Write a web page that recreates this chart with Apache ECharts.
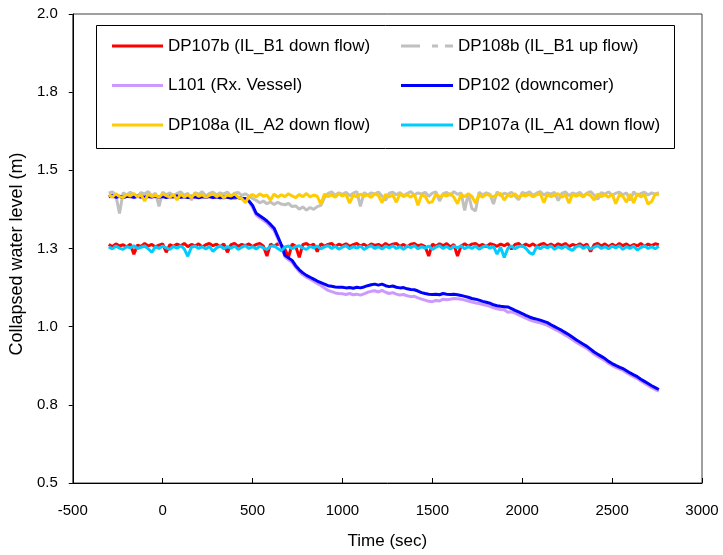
<!DOCTYPE html>
<html>
<head>
<meta charset="utf-8">
<title>Collapsed water level</title>
<script src="https://cdn.jsdelivr.net/npm/echarts@6/dist/echarts.min.js"></script>
<style>
  html, body { margin: 0; padding: 0; background: #ffffff; }
  #chart { width: 723px; height: 555px; }
</style>
</head>
<body>
<div id="chart"></div>
<script>
// Sample times (s)
const timeSec = [
  -300,-280,-260,-240,-220,-200,-180,-160,-140,-120,
  -100,-80,-60,-40,-20,0,20,40,60,80,
  100,120,140,160,180,200,220,240,260,280,
  300,320,340,360,380,400,420,440,460,480,
  500,520,540,560,580,600,620,640,660,680,
  700,720,740,760,780,800,820,840,860,880,
  900,920,940,960,980,1000,1020,1040,1060,1080,
  1100,1120,1140,1160,1180,1200,1220,1240,1260,1280,
  1300,1320,1340,1360,1380,1400,1420,1440,1460,1480,
  1500,1520,1540,1560,1580,1600,1620,1640,1660,1680,
  1700,1720,1740,1760,1780,1800,1820,1840,1860,1880,
  1900,1920,1940,1960,1980,2000,2020,2040,2060,2080,
  2100,2120,2140,2160,2180,2200,2220,2240,2260,2280,
  2300,2320,2340,2360,2380,2400,2420,2440,2460,2480,
  2500,2520,2540,2560,2580,2600,2620,2640,2660,2680,
  2700,2720,2740,2760
];

// DP107b (IL_B1 down flow), m
const dp107b = [
  1.263,1.256,1.265,1.258,1.262,1.255,1.264,1.232,1.261,1.257,
  1.266,1.258,1.263,1.255,1.261,1.265,1.238,1.262,1.257,1.264,
  1.259,1.266,1.256,1.263,1.258,1.265,1.255,1.262,1.266,1.259,
  1.264,1.256,1.265,1.238,1.262,1.266,1.257,1.263,1.259,1.265,
  1.256,1.263,1.266,1.258,1.226,1.264,1.257,1.265,1.260,1.248,
  1.222,1.264,1.257,1.222,1.263,1.266,1.258,1.264,1.240,1.265,
  1.257,1.263,1.266,1.256,1.264,1.259,1.265,1.257,1.262,1.266,
  1.258,1.264,1.256,1.265,1.260,1.263,1.257,1.266,1.259,1.264,
  1.266,1.257,1.263,1.255,1.264,1.266,1.258,1.262,1.256,1.226,
  1.264,1.257,1.265,1.259,1.266,1.255,1.263,1.226,1.258,1.265,
  1.257,1.264,1.266,1.258,1.263,1.256,1.265,1.262,1.257,1.264,
  1.259,1.266,1.248,1.263,1.266,1.257,1.264,1.258,1.265,1.256,
  1.263,1.266,1.258,1.264,1.257,1.265,1.260,1.266,1.256,1.263,
  1.258,1.265,1.257,1.264,1.240,1.262,1.266,1.258,1.265,1.256,
  1.264,1.257,1.266,1.259,1.265,1.256,1.263,1.258,1.266,1.257,
  1.264,1.259,1.265,1.262
];

// DP108b (IL_B1 up flow), m
const dp108b = [
  1.427,1.431,1.419,1.362,1.428,1.421,1.430,1.423,1.417,1.429,
  1.424,1.432,1.418,1.427,1.385,1.430,1.422,1.428,1.419,1.426,
  1.431,1.420,1.427,1.405,1.429,1.423,1.432,1.418,1.426,1.430,
  1.421,1.428,1.424,1.431,1.417,1.427,1.429,1.420,1.425,1.418,
  1.410,1.404,1.396,1.402,1.393,1.399,1.391,1.398,1.392,1.390,
  1.394,1.384,1.386,1.376,1.383,1.373,1.381,1.375,1.384,1.388,
  1.412,1.426,1.431,1.420,1.428,1.423,1.430,1.419,1.427,1.432,
  1.385,1.429,1.421,1.428,1.424,1.431,1.418,1.404,1.427,1.430,
  1.422,1.429,1.419,1.426,1.432,1.421,1.428,1.424,1.430,1.417,
  1.427,1.431,1.402,1.425,1.429,1.420,1.432,1.423,1.428,1.372,
  1.426,1.378,1.370,1.430,1.421,1.428,1.424,1.392,1.431,1.419,
  1.427,1.423,1.430,1.418,1.406,1.429,1.425,1.431,1.420,1.427,
  1.432,1.421,1.428,1.424,1.430,1.403,1.426,1.431,1.419,1.428,
  1.423,1.430,1.418,1.427,1.432,1.421,1.407,1.429,1.424,1.431,
  1.420,1.427,1.430,1.422,1.428,1.404,1.431,1.419,1.426,1.430,
  1.421,1.428,1.424,1.429
];

// L101 (Rx. Vessel), m
const l101 = [
  1.415,1.417,1.413,1.416,1.414,1.417,1.415,1.413,1.416,1.414,
  1.417,1.415,1.413,1.416,1.414,1.417,1.415,1.412,1.416,1.414,
  1.415,1.413,1.416,1.414,1.412,1.415,1.413,1.416,1.414,1.412,
  1.415,1.413,1.411,1.414,1.412,1.410,1.413,1.411,1.408,1.400,
  1.382,1.357,1.348,1.340,1.332,1.320,1.308,1.282,1.256,1.224,
  1.214,1.206,1.190,1.176,1.166,1.158,1.152,1.145,1.138,1.132,
  1.124,1.116,1.112,1.108,1.106,1.105,1.103,1.106,1.102,1.104,
  1.101,1.105,1.110,1.113,1.115,1.111,1.116,1.110,1.106,1.109,
  1.104,1.101,1.103,1.099,1.096,1.097,1.092,1.088,1.085,1.081,
  1.080,1.084,1.082,1.088,1.086,1.088,1.090,1.089,1.088,1.085,
  1.082,1.079,1.076,1.074,1.071,1.068,1.065,1.060,1.057,1.055,
  1.054,1.046,1.048,1.043,1.038,1.033,1.027,1.022,1.018,1.015,
  1.012,1.008,1.004,0.998,0.992,0.986,0.980,0.973,0.966,0.958,
  0.950,0.943,0.937,0.930,0.921,0.912,0.905,0.898,0.891,0.883,
  0.876,0.870,0.865,0.860,0.853,0.846,0.840,0.834,0.826,0.819,
  0.812,0.805,0.799,0.794
];

// DP102 (downcomer), m
const dp102 = [
  1.416,1.419,1.414,1.417,1.413,1.416,1.418,1.414,1.417,1.415,
  1.413,1.417,1.415,1.418,1.414,1.416,1.413,1.417,1.415,1.418,
  1.414,1.416,1.413,1.417,1.415,1.412,1.416,1.414,1.417,1.413,
  1.415,1.412,1.416,1.414,1.411,1.415,1.413,1.410,1.410,1.402,
  1.388,1.363,1.355,1.347,1.338,1.327,1.315,1.289,1.262,1.228,
  1.220,1.212,1.195,1.182,1.172,1.164,1.158,1.152,1.146,1.141,
  1.136,1.131,1.129,1.127,1.126,1.126,1.124,1.125,1.123,1.126,
  1.124,1.127,1.131,1.134,1.136,1.133,1.136,1.131,1.128,1.130,
  1.126,1.124,1.125,1.121,1.119,1.118,1.114,1.109,1.106,1.104,
  1.103,1.104,1.102,1.106,1.104,1.103,1.104,1.102,1.100,1.097,
  1.094,1.090,1.088,1.085,1.081,1.078,1.075,1.070,1.067,1.065,
  1.064,1.063,1.058,1.052,1.047,1.042,1.036,1.031,1.027,1.024,
  1.021,1.017,1.013,1.006,1.000,0.994,0.988,0.981,0.974,0.966,
  0.958,0.951,0.944,0.937,0.928,0.919,0.912,0.905,0.898,0.889,
  0.882,0.876,0.871,0.866,0.859,0.852,0.846,0.840,0.832,0.825,
  0.818,0.811,0.805,0.799
];

// DP108a (IL_A2 down flow), m
const dp108a = [
  1.422,1.414,1.425,1.416,1.413,1.423,1.418,1.426,1.415,1.421,
  1.402,1.424,1.416,1.421,1.413,1.425,1.419,1.414,1.423,1.405,
  1.424,1.415,1.421,1.413,1.426,1.417,1.422,1.414,1.420,1.425,
  1.416,1.423,1.413,1.421,1.418,1.425,1.414,1.410,1.396,1.416,
  1.423,1.415,1.425,1.417,1.421,1.405,1.424,1.414,1.422,1.416,
  1.425,1.418,1.413,1.423,1.416,1.426,1.415,1.421,1.417,1.392,
  1.424,1.416,1.422,1.414,1.425,1.418,1.423,1.395,1.421,1.415,
  1.424,1.417,1.422,1.413,1.426,1.419,1.397,1.423,1.415,1.421,
  1.398,1.425,1.416,1.422,1.414,1.424,1.388,1.421,1.417,1.396,
  1.400,1.424,1.415,1.422,1.418,1.426,1.414,1.393,1.423,1.416,
  1.425,1.417,1.395,1.422,1.414,1.424,1.419,1.415,1.423,1.426,
  1.405,1.422,1.416,1.425,1.413,1.421,1.418,1.424,1.415,1.422,
  1.426,1.397,1.423,1.416,1.421,1.425,1.414,1.422,1.395,1.424,
  1.417,1.423,1.415,1.426,1.419,1.405,1.424,1.416,1.422,1.414,
  1.425,1.393,1.421,1.417,1.398,1.424,1.396,1.426,1.415,1.422,
  1.392,1.400,1.425,1.421
];

// DP107a (IL_A1 down flow), m
const dp107a = [
  1.255,1.249,1.258,1.251,1.247,1.256,1.252,1.259,1.250,1.254,
  1.258,1.249,1.238,1.256,1.250,1.258,1.252,1.247,1.257,1.251,
  1.259,1.249,1.225,1.254,1.258,1.250,1.256,1.248,1.257,1.241,
  1.252,1.259,1.249,1.256,1.251,1.258,1.247,1.254,1.259,1.250,
  1.256,1.248,1.258,1.252,1.247,1.257,1.259,1.250,1.243,1.255,
  1.258,1.249,1.256,1.259,1.251,1.247,1.257,1.252,1.258,1.249,
  1.255,1.259,1.250,1.257,1.248,1.254,1.259,1.249,1.256,1.251,
  1.258,1.247,1.254,1.259,1.250,1.256,1.248,1.258,1.252,1.259,
  1.250,1.256,1.247,1.258,1.253,1.259,1.249,1.256,1.251,1.258,
  1.247,1.254,1.259,1.250,1.257,1.248,1.258,1.252,1.259,1.249,
  1.256,1.250,1.258,1.248,1.255,1.259,1.251,1.257,1.232,1.254,
  1.221,1.250,1.258,1.249,1.256,1.259,1.251,1.237,1.231,1.256,
  1.249,1.258,1.252,1.259,1.247,1.256,1.250,1.258,1.249,1.244,
  1.256,1.259,1.250,1.257,1.248,1.254,1.259,1.250,1.256,1.249,
  1.258,1.252,1.259,1.247,1.256,1.250,1.258,1.245,1.253,1.259,
  1.250,1.256,1.249,1.257
];

const seriesNames = [
  'DP107b (IL_B1 down flow)',
  'DP108b (IL_B1 up flow)',
  'L101 (Rx. Vessel)',
  'DP102 (downcomer)',
  'DP108a (IL_A2 down flow)',
  'DP107a (IL_A1 down flow)'
];
const seriesValues = [dp107b, dp108b, l101, dp102, dp108a, dp107a];
const seriesColors = ['#FF0000', '#C0C0C0', '#CC99FF', '#0000FF', '#FFCC00', '#00CCFF'];

const xTicks = [-500, 0, 500, 1000, 1500, 2000, 2500, 3000];
const yTickLabels = ['0.5', '0.8', '1.0', '1.3', '1.5', '1.8', '2.0'];

const FONT = '"Liberation Sans", Arial, sans-serif';
const dashIcon = 'path://M0,0h19v3h-19zM31,0h6v3h-6zM44,0h8v3h-8z';

const chart = echarts.init(document.getElementById('chart'), null, { renderer: 'canvas' });

const series = seriesValues.map((vals, k) => ({
  name: seriesNames[k],
  type: 'line',
  data: timeSec.map((t, i) => [t, vals[i]]),
  showSymbol: false,
  symbol: 'none',
  silent: true,
  color: seriesColors[k],
  lineStyle: { color: seriesColors[k], width: 3 },
  animation: false
}));

function legendItem(k) {
  return {
    name: seriesNames[k],
    icon: k === 1 ? dashIcon : 'rect',
    itemStyle: { color: seriesColors[k] }
  };
}

const legendBase = {
  orient: 'vertical',
  top: 36,
  padding: 0,
  itemHeight: 3,
  itemGap: 19.5,
  selectedMode: false,
  textStyle: { fontFamily: FONT, fontSize: 17, lineHeight: 20, color: '#000' }
};

chart.setOption({
  animation: false,
  backgroundColor: '#ffffff',
  grid: {
    left: 72, right: 21, top: 14, bottom: 71,
    show: true, borderColor: '#404040', borderWidth: 1
  },
  graphic: [{
    type: 'rect',
    z: 1,
    shape: { x: 96.5, y: 25.5, width: 578, height: 123 },
    style: { fill: '#ffffff', stroke: '#000000', lineWidth: 1 }
  }],
  legend: [
    Object.assign({}, legendBase, { left: 112, itemWidth: 51, data: [0, 2, 4].map(legendItem) }),
    Object.assign({}, legendBase, { left: 401, itemWidth: 52, data: [1, 3, 5].map(legendItem) })
  ],
  xAxis: {
    type: 'value',
    min: xTicks[0],
    max: xTicks[xTicks.length - 1],
    interval: 500,
    name: 'Time (sec)',
    nameLocation: 'middle',
    nameGap: 50,
    nameTextStyle: { fontFamily: FONT, fontSize: 17, color: '#000' },
    axisLine: { show: true, onZero: false, lineStyle: { color: '#000', width: 1 } },
    axisTick: { show: true, inside: true, length: 5, lineStyle: { color: '#000' } },
    axisLabel: { margin: 20, fontFamily: FONT, fontSize: 15, color: '#000', formatter: v => String(v) },
    splitLine: { show: false }
  },
  yAxis: {
    type: 'value',
    min: 0.5,
    max: 2.0,
    interval: 0.25,
    name: 'Collapsed water level (m)',
    nameLocation: 'middle',
    nameGap: 40,
    nameTextStyle: { fontFamily: FONT, fontSize: 18, color: '#000', padding: [0, 11, 0, 0] },
    axisLine: { show: true, onZero: false, lineStyle: { color: '#000', width: 1 } },
    axisTick: { show: true, inside: false, length: 4, lineStyle: { color: '#000' } },
    axisLabel: {
      margin: 15, fontFamily: FONT, fontSize: 15, color: '#000',
      formatter: v => yTickLabels[Math.round((v - 0.5) / 0.25)]
    },
    splitLine: { show: false }
  },
  series: series
});
</script>
</body>
</html>
